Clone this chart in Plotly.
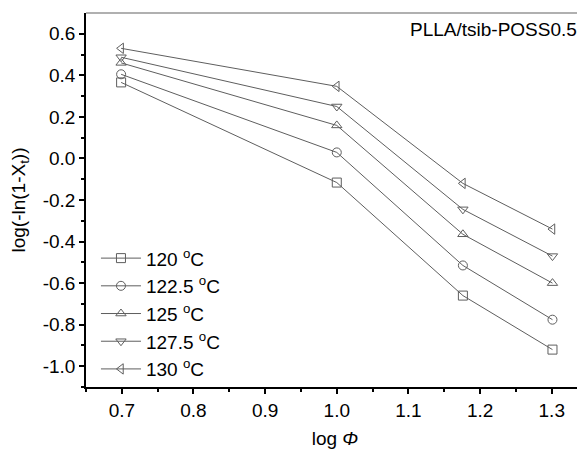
import plotly.graph_objects as go

log_phi = [0.699, 1.0, 1.176, 1.301]
series_names = ["120 <sup>o</sup>C", "122.5 <sup>o</sup>C", "125 <sup>o</sup>C",
                "127.5 <sup>o</sup>C", "130 <sup>o</sup>C"]
y_120 = [0.366, -0.116, -0.66, -0.92]
y_122_5 = [0.405, 0.029, -0.515, -0.776]
y_125 = [0.46, 0.159, -0.365, -0.60]
y_127_5 = [0.487, 0.25, -0.245, -0.47]
y_130 = [0.53, 0.347, -0.12, -0.34]
symbols = ["square-open", "circle-open", "triangle-up-open", "triangle-down-open", "triangle-left-open"]

series = [y_120, y_122_5, y_125, y_127_5, y_130]
color = "#5e5e5e"
font = "Liberation Sans, Arial, sans-serif"
fs = 19

fig = go.Figure()
for name, ys, sym in zip(series_names, series, symbols):
    fig.add_trace(go.Scatter(
        x=log_phi, y=ys, name=name, mode="lines+markers",
        line=dict(color=color, width=1),
        marker=dict(symbol=sym, size=9, color=color, line=dict(color=color, width=1)),
    ))

axis_common = dict(
    showline=True, linecolor="black", linewidth=1.5,
    ticks="outside", ticklen=5, tickwidth=1.5, tickcolor="black",
    showgrid=False, zeroline=False,
    tickfont=dict(family=font, size=fs, color="black"),
)
fig.update_xaxes(range=[0.65, 1.345], tickmode="array",
                 tickvals=[0.7, 0.8, 0.9, 1.0, 1.1, 1.2, 1.3],
                 ticktext=["0.7", "0.8", "0.9", "1.0", "1.1", "1.2", "1.3"],
                 minor=dict(tickvals=[0.65, 0.75, 0.85, 0.95, 1.05, 1.15, 1.25],
                            ticks="outside", ticklen=3, tickwidth=1.5, tickcolor="black"),
                 title=dict(text="log <i>Φ</i>", font=dict(family=font, size=fs, color="black"),
                            standoff=12),
                 **axis_common)
fig.update_yaxes(range=[-1.1, 0.7], tickmode="array",
                 tickvals=[-1.0, -0.8, -0.6, -0.4, -0.2, 0.0, 0.2, 0.4, 0.6],
                 ticktext=["-1.0", "-0.8", "-0.6", "-0.4", "-0.2", "0.0", "0.2", "0.4", "0.6"],
                 minor=dict(tickvals=[-1.1, -0.9, -0.7, -0.5, -0.3, -0.1, 0.1, 0.3, 0.5],
                            ticks="outside", ticklen=3, tickwidth=1.5, tickcolor="black"),
                 title=dict(text="log(-ln(1-X<sub>t</sub>))", font=dict(family=font, size=fs, color="black"),
                            standoff=14),
                 **axis_common)

fig.add_shape(type="line", xref="paper", yref="paper", x0=0, x1=1, y0=1, y1=1,
              line=dict(color="#b0b0b0", width=2))

fig.add_annotation(text="PLLA/tsib-POSS0.5", xref="paper", yref="paper",
                   x=0.99, y=0.99, xanchor="right", yanchor="top", showarrow=False,
                   font=dict(family=font, size=fs, color="black"))

# Page body has an 8px default margin; size the figure so it fills the 585x451 window.
fig.update_layout(
    width=577, height=443,
    margin=dict(l=78, r=1, t=5, b=64),
    plot_bgcolor="white", paper_bgcolor="white",
    showlegend=True,
    legend=dict(x=0.02, y=0.395, xanchor="left", yanchor="top",
                bgcolor="rgba(0,0,0,0)", font=dict(family=font, size=fs, color="black"),
                itemwidth=40, tracegroupgap=0),
)

fig.write_html("out.html")
